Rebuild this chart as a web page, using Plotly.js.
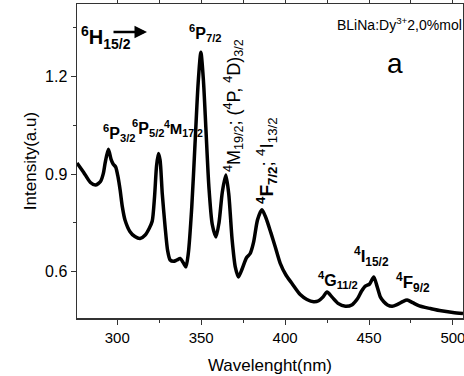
<!DOCTYPE html>
<html><head><meta charset="utf-8">
<script src="https://cdn.plot.ly/plotly-3.0.1.min.js"></script>
<style>html,body{margin:0;padding:0;background:#fff}#chart{width:464px;height:376px}</style>
</head><body><div id="chart"></div>
<script>
const wavelength = [276,280,284,287,290,291.7,292.8,294.7,296.3,297.6,299,300.3,301.7,303,304.6,307.6,310.5,313.6,316.5,319,320.8,322.2,323.4,324.5,325.5,326.8,328.5,330,331.5,333.5,335.5,337.5,339.3,340.9,342.3,344.4,346.3,348.2,349.8,351.3,352.8,354.6,356.6,358.8,360.6,362.6,364.7,366.4,368.4,370.3,372.2,374.5,377,379.2,381.2,383.6,386.2,388.6,391.5,394.1,397.1,400.5,404.1,409,413,417,420,422.5,425,428,431.5,435.9,440,443,445.5,447.8,450.3,452.8,454.8,456.8,458.8,461,463.8,467,470,472.7,476,480,486.6,493,500,506];
const intensity  = [0.934,0.905,0.874,0.866,0.877,0.902,0.935,0.976,0.945,0.93,0.922,0.895,0.851,0.80,0.759,0.723,0.708,0.702,0.712,0.733,0.755,0.83,0.925,0.963,0.943,0.84,0.738,0.665,0.636,0.632,0.636,0.641,0.628,0.615,0.655,0.80,0.99,1.18,1.274,1.19,1.04,0.86,0.745,0.707,0.75,0.845,0.897,0.84,0.70,0.615,0.584,0.61,0.643,0.656,0.69,0.76,0.79,0.765,0.72,0.677,0.626,0.59,0.564,0.530,0.515,0.508,0.511,0.522,0.538,0.522,0.503,0.494,0.499,0.516,0.540,0.556,0.562,0.584,0.555,0.522,0.508,0.498,0.494,0.500,0.508,0.513,0.505,0.495,0.487,0.480,0.475,0.472];
const xTicks = [300,350,400,450,500];
const yTicks = [0.6,0.9,1.2];

const FONT = "'Liberation Sans', Arial, sans-serif";
const trace = {x: wavelength, y: intensity, mode:'lines', type:'scatter',
  line:{color:'#000', width:3.5, shape:'spline', smoothing:0.7}, hoverinfo:'skip'};

function ann(x, y, text, size, extra){ return Object.assign({xref:'paper', yref:'paper', x:x, y:y, text:text, showarrow:false, font:{family:FONT, size:size, color:'#000'}, xanchor:'center', yanchor:'middle'}, extra||{}); }
// convert pixel coords to paper coords (plot area 77..463 x 4..318)
const px = v => (v-77)/386, py = v => 1-(v-4)/314;

const layout = {
  width:464, height:376, margin:{l:77, r:1, t:4, b:58}, paper_bgcolor:'#fff', plot_bgcolor:'#fff',
  showlegend:false,
  font:{family:FONT, color:'#000'},
  xaxis:{range:[276,506], tickvals:xTicks, ticks:'outside', ticklen:5, tickwidth:1, tickcolor:'#333',
    showline:true, linecolor:'#333', linewidth:1.5, mirror:'ticks', showgrid:false, zeroline:false,
    ticklabeloverflow:'allow',
    minor:{dtick:25, tick0:275, ticks:'outside', ticklen:3, tickcolor:'#333', showgrid:false},
    tickfont:{family:FONT, size:15, color:'#000'},
    title:{text:'Wavelenght(nm)', font:{family:FONT, size:17, color:'#000'}, standoff:14}},
  yaxis:{range:[0.458,1.422], tickvals:yTicks, tickformat:'.1f', ticks:'outside', ticklen:5, tickwidth:1, tickcolor:'#333',
    showline:true, linecolor:'#333', linewidth:1.5, mirror:'ticks', showgrid:false, zeroline:false,
    minor:{dtick:0.15, tick0:0.45, ticks:'outside', ticklen:3, tickcolor:'#333', showgrid:false},
    tickfont:{family:FONT, size:16, color:'#000'},
    title:{text:'Intensity(a.u)', font:{family:FONT, size:17, color:'#000'}, standoff:4}},
  annotations:[
    ann(px(106), py(38), '<b><sup>6</sup>H<sub>15/2</sub></b>', 20),
    {xref:'paper', yref:'paper', axref:'pixel', ayref:'pixel', x:px(147), y:py(32), ax:-35, ay:0, showarrow:true, arrowhead:2, arrowsize:1, arrowwidth:2.5, arrowcolor:'#000', text:''},
    ann(px(119), py(133), '<b><sup>6</sup>P<sub>3/2</sub></b>', 16),
    ann(px(148), py(128), '<b><sup>6</sup>P<sub>5/2</sub></b>', 16),
    ann(px(183), py(128), '<b><sup>4</sup>M<sub>17/2</sub></b>', 15),
    ann(px(205), py(33), '<b><sup>6</sup>P<sub>7/2</sub></b>', 16),
    ann(px(234), py(106), '<sup>4</sup>M<sub>19/2</sub>; (<sup>4</sup>P, <sup>4</sup>D)<sub>3/2</sub>', 18, {textangle:-90}),
    ann(px(266), py(161), '<b><sup>4</sup>F<sub>7/2</sub></b>; <sup>4</sup>I<sub>13/2</sub>', 19, {textangle:-90}),
    ann(px(338), py(280), '<b><sup>4</sup>G<sub>11/2</sub></b>', 16),
    ann(px(371), py(256), '<b><sup>4</sup>I<sub>15/2</sub></b>', 17),
    ann(px(413), py(282), '<b><sup>4</sup>F<sub>9/2</sub></b>', 17),
    ann(px(399), py(24), 'BLiNa:Dy<sup>3+</sup>2,0%mol', 14),
    ann(px(395), py(63), 'a', 28)
  ]
};
Plotly.newPlot('chart', [trace], layout, {staticPlot:true, displayModeBar:false});
</script></body></html>
